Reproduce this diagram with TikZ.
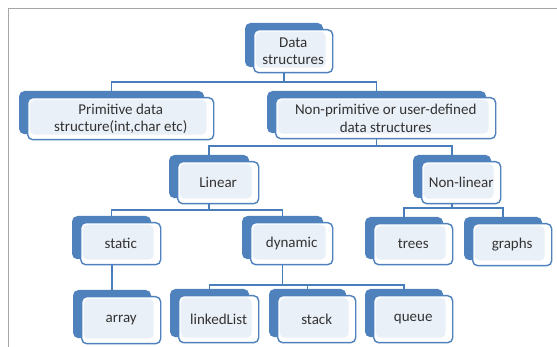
\documentclass[tikz,border=0pt]{standalone}
\usepackage{fontspec}
\setmainfont{Carlito}
\usetikzlibrary{backgrounds}
\definecolor{sablue}{HTML}{4F81BD}
\definecolor{lnblue}{HTML}{4A7EBB}
\definecolor{innerblue}{HTML}{EAF0F8}
\definecolor{txtgray}{HTML}{333333}
\definecolor{framegray}{HTML}{A6A6A6}
\newcommand\sabox[6]{%
  \node[backbox, minimum width={#4-#2-2}, minimum height={#5-#3}] (#1b) at (#2-8,#3-6) {};
  \node[frontbox, minimum width={#4-#2}, minimum height={#5-#3}] (#1) at (#2,#3) {#6};
}
\begin{document}
\begin{tikzpicture}[x=1pt,y=-1pt,
  backbox/.style={draw=sablue, fill=sablue, line width=1.2pt, rounded corners=5pt, inner sep=0pt, anchor=north west},
  frontbox/.style={draw=sablue, fill=white, line width=1.4pt, rounded corners=5pt, inner sep=0pt,
    anchor=north west, text=txtgray, font=\fontsize{15}{17.5}\selectfont, align=center,
    path picture={\fill[innerblue] ([shift={(2pt,-2pt)}]path picture bounding box.north west) rectangle ([shift={(-7pt,5pt)}]path picture bounding box.south east);}},
  conn/.style={draw=lnblue, line width=1.4pt}]
\useasboundingbox (0,0) rectangle (557,347);
\draw[framegray, line width=0.8pt] (8,347) -- (8,8) -- (557,8);

\sabox{ds}{253}{29}{332}{72}{Data\\structures}
\sabox{prim}{27}{97}{213}{139}{Primitive data\\structure(int,char etc)}
\sabox{nonprim}{275}{97}{495}{138}{Non-primitive or user-defined\\data structures}
\sabox{lin}{177}{161}{258}{203}{Linear}
\sabox{nonlin}{421}{161}{500}{203}{Non-linear}
\sabox{stat}{80}{222}{160}{264}{static}
\sabox{dyn}{250}{222}{332}{264}{dynamic}
\sabox{trees}{373}{223}{452}{264}{trees}
\sabox{graphs}{472}{223}{551}{265}{graphs}
\sabox{arr}{81}{296}{160}{343}{array}
\sabox{ll}{178}{295}{258}{342}{linkedList}
\sabox{stack}{277}{295}{355}{342}{stack}
\sabox{queue}{373}{295}{452}{342}{queue}

\coordinate (bus1) at (0,82);
\coordinate (bus2) at (0,146);
\coordinate (bus3) at (0,210);
\coordinate (bus4) at (0,208);
\coordinate (bus5) at (0,285);

\begin{scope}[on background layer]
\fill[white] (0,0) rectangle (557,347);
\draw[conn] (dsb.south) -- (dsb.south |- bus1);
\draw[conn] (primb.north) |- (nonprimb.north |- bus1) -- (nonprimb.north);
\draw[conn] (nonprimb.south) -- (nonprimb.south |- bus2);
\draw[conn] (linb.north) |- (nonlinb.north |- bus2) -- (nonlinb.north);
\draw[conn] (linb.south) -- (linb.south |- bus3);
\draw[conn] (statb.north) |- (dynb.north |- bus3) -- (dynb.north);
\draw[conn] (nonlinb.south) -- (nonlinb.south |- bus4);
\draw[conn] (treesb.north) |- (graphsb.north |- bus4) -- (graphsb.north);
\draw[conn] (arrb.north |- statb.south) -- (arrb.north);
\draw[conn] (dynb.south) -- (dynb.south |- bus5);
\draw[conn] (llb.north) |- (queueb.north |- bus5) -- (queueb.north);
\draw[conn] (stackb.north) -- (stackb.north |- bus5);
\end{scope}
\end{tikzpicture}
\end{document}
